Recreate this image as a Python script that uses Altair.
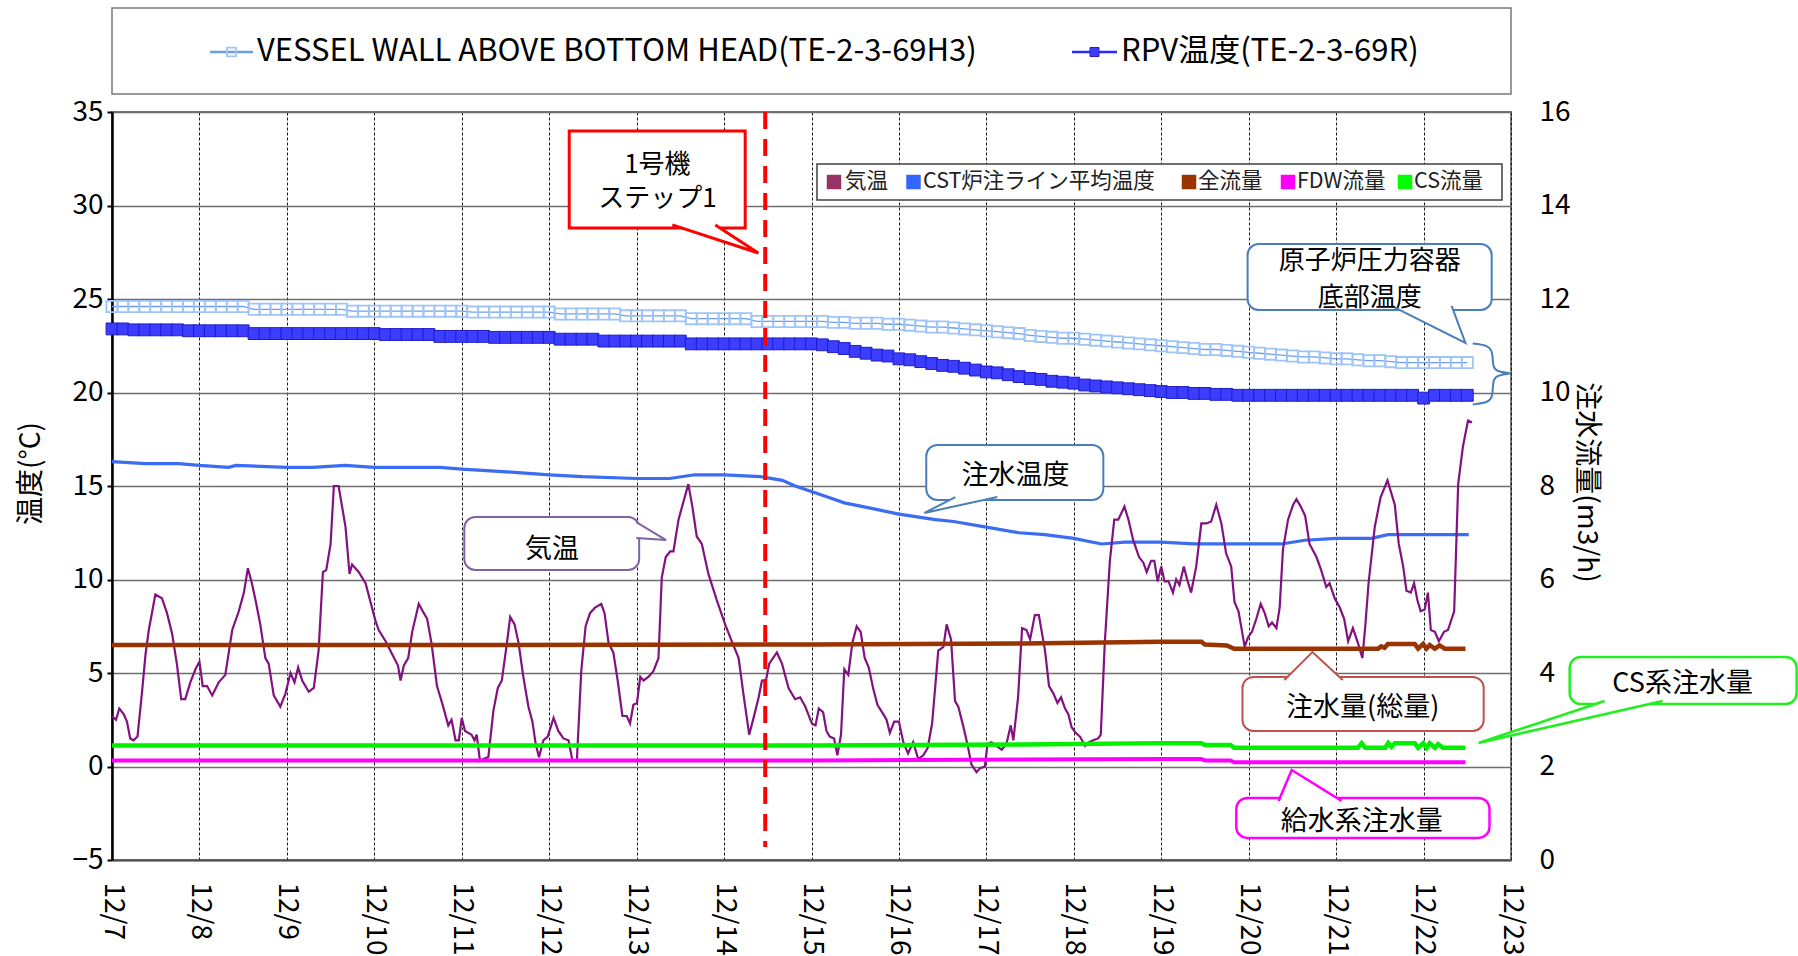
import altair as alt
import pandas as pd

FONT = "Noto Sans CJK JP"
W, H = 1399, 748          # plot area in pixels
X_MAX = 384               # 12/7 00:00 .. 12/23 00:00, in hours

# ---------------------------------------------------------------------------
# Time is given in hours since 12/7 00:00.
# 気温 (outside air temperature, degC)
AIR_HOURS = [
    0.0, 1.1, 2.0, 3.2, 4.1, 5.0, 5.9, 7.0, 8.2, 9.2,
    10.1, 11.9, 13.7, 15.1, 16.5, 17.8, 19.0, 20.1, 21.5, 22.9,
    24.0, 24.9, 26.1, 27.5, 29.3, 31.1, 33.0, 34.8, 36.2, 37.3,
    38.4, 39.5, 40.7, 42.1, 43.0, 44.4, 46.2, 47.6, 49.0, 50.1,
    51.1, 52.2, 54.0, 55.4, 56.7, 57.9, 58.8, 60.0, 60.9, 62.2,
    64.1, 65.2, 65.9, 67.7, 69.6, 72.3, 73.2, 75.1, 76.9, 78.5,
    79.2, 80.1, 81.3, 82.4, 84.2, 85.6, 86.5, 87.7, 89.2, 90.6,
    92.3, 93.2, 94.3, 95.2,
    96.0, 96.9, 97.8, 98.7, 99.5, 100.1, 101.0, 101.9, 103.3, 104.7,
    105.9, 107.0, 108.4, 109.3, 110.5, 111.6, 112.9, 114.3, 115.4, 116.3,
    117.2, 118.4, 119.6, 121.2, 122.5, 123.9, 125.3, 126.4, 127.6, 128.8,
    130.0, 131.2, 132.6, 134.3, 135.2, 136.3, 137.6, 138.8, 140.1, 141.3,
    142.2, 143.1, 144.1, 145.0, 145.9, 147.3, 148.6, 150.0, 150.9, 152.0,
    153.2, 154.1, 155.5, 156.9, 158.2, 159.3, 160.5, 161.9, 163.7, 166.0,
    168.3, 170.1, 172.0, 173.3, 174.9, 176.1, 177.5, 178.4, 179.5, 180.4,
    182.5, 183.9, 185.7, 187.5, 188.9, 190.3,
    192.1, 193.1, 194.0, 195.2, 196.1, 197.0, 198.2, 199.1, 200.1, 201.0,
    202.1, 203.2, 204.4, 205.5, 206.6, 207.7, 208.9, 210.1, 211.7, 212.6,
    213.5, 214.7, 216.0, 217.2, 218.5, 219.9, 221.3, 222.7, 223.9, 225.1,
    226.8, 228.2, 229.1, 230.3, 231.4, 232.3, 233.6, 235.0, 235.9, 237.3,
    238.2, 239.6, 240.3, 241.4, 242.8, 244.2, 245.5, 246.7, 247.4, 248.7,
    249.8, 251.0, 252.0, 253.3, 254.4, 256.1, 257.2, 258.4, 259.5, 260.5,
    261.6, 262.5, 263.4, 264.5, 265.7, 267.1, 268.2, 269.3, 270.7, 271.4,
    272.5, 273.9, 275.1, 276.2, 277.9, 279.0, 280.3, 281.9, 283.1, 284.0,
    285.2, 286.1, 287.0,
    288.0, 288.9, 290.0, 291.2, 292.1, 293.0, 294.2, 295.1, 296.2, 297.6,
    299.0, 300.4, 301.7, 303.1, 304.5, 305.8, 307.2, 308.1, 309.2, 310.2,
    310.9, 311.8, 312.9, 314.1, 315.3, 316.4, 317.5, 318.4, 319.6, 320.5,
    321.4, 322.8, 324.2, 325.1, 326.3, 327.5, 328.7, 330.6, 331.9, 333.3,
    334.2, 335.6, 337.0, 338.2, 339.3, 340.6, 342.0, 343.2, 344.0, 344.9,
    346.6, 348.2, 350.1, 352.1, 353.2, 354.4, 355.3, 356.5, 357.4, 358.3,
    359.2, 360.3, 361.2, 362.0, 363.1, 364.2, 365.6, 366.7, 368.4, 369.5,
    370.8, 372.2, 373.3,
]
AIR_TEMP = [
    2.7, 2.5, 3.1, 2.8, 2.4, 1.5, 1.4, 1.6, 3.9, 6.0,
    7.3, 9.2, 9.0, 8.2, 7.1, 5.5, 3.6, 3.6, 4.5, 5.2,
    5.6, 4.3, 4.3, 3.8, 4.5, 4.9, 7.3, 8.3, 9.3, 10.6,
    9.8, 8.8, 7.6, 5.8, 5.5, 3.8, 3.2, 3.9, 5.0, 4.5,
    5.3, 4.6, 4.0, 4.2, 6.2, 10.4, 10.5, 11.9, 15.0, 15.0,
    12.8, 10.3, 10.8, 10.4, 9.8, 7.8, 7.3, 6.7, 6.0, 5.4,
    4.6, 5.4, 5.8, 7.2, 8.7, 8.2, 7.9, 6.6, 4.3, 3.4,
    2.2, 2.5, 1.4, 1.4,
    2.6, 1.9, 1.8, 1.7, 1.4, 1.7, 0.3, 0.4, 0.5, 3.0,
    4.2, 4.6, 6.6, 8.0, 7.6, 6.6, 4.8, 3.2, 2.4, 1.2,
    0.5, 1.4, 1.6, 2.6, 1.9, 1.5, 1.4, 0.3, 0.3, 5.1,
    7.5, 8.2, 8.5, 8.7, 8.2, 6.6, 6.1, 4.6, 2.7, 2.7,
    2.3, 3.3, 3.4, 4.8, 4.6, 4.8, 5.1, 5.8, 10.1, 11.2,
    11.5, 11.5, 13.2, 14.2, 15.1, 13.9, 12.3, 11.9, 10.3, 8.9,
    7.6, 6.7, 5.8, 3.9, 1.7, 2.6, 3.7, 4.6, 4.6, 5.5,
    6.1, 5.5, 4.2, 3.6, 3.7, 3.2,
    2.3, 2.2, 3.1, 2.9, 1.9, 1.6, 1.5, 0.6, 1.7, 5.2,
    4.9, 6.6, 7.5, 7.2, 5.8, 5.3, 4.2, 3.3, 2.8, 2.5,
    1.8, 2.4, 2.4, 1.3, 0.7, 1.3, 0.4, 0.6, 1.0, 2.3,
    6.2, 6.4, 7.6, 6.8, 3.5, 3.2, 2.2, 1.0, 0.1, -0.3,
    -0.1, 0.0, 1.2, 1.3, 1.1, 0.9, 1.2, 2.2, 1.4, 3.7,
    7.4, 7.3, 6.8, 8.1, 8.1, 6.2, 4.3, 3.9, 3.4, 3.7,
    3.1, 2.8, 2.1, 1.8, 1.6, 1.1, 1.3, 1.4, 1.5, 1.7,
    6.6, 11.0, 13.2, 13.2, 13.9, 13.2, 12.1, 11.2, 10.9, 10.4,
    11.0, 11.0, 9.9,
    10.7, 9.9, 9.9, 9.3, 10.0, 9.7, 10.7, 10.0, 9.3, 10.7,
    13.0, 13.0, 13.1, 14.0, 13.0, 11.4, 10.7, 8.8, 8.3, 7.2,
    6.4, 6.9, 7.2, 7.9, 8.7, 8.2, 7.5, 7.7, 7.4, 8.5,
    11.6, 13.2, 14.0, 14.3, 13.9, 13.4, 11.9, 11.2, 10.5, 9.6,
    9.8, 9.0, 8.5, 7.9, 6.7, 7.4, 6.6, 5.8, 7.5, 9.8,
    12.8, 14.4, 15.3, 14.0, 11.9, 10.7, 9.4, 9.3, 9.8, 8.9,
    8.3, 8.4, 9.3, 7.3, 7.2, 6.7, 7.2, 7.3, 8.3, 15.1,
    17.1, 18.5, 18.4,
]

# CST炉注ライン平均温度 (injection water temperature, degC)
CST_HOURS = [0, 9.2, 18.3, 24, 32, 34, 48, 55, 64, 72,
             80, 90, 96, 105, 120, 129, 144, 153, 160, 168,
             178, 184, 187.5, 192, 196.6, 201, 208.5, 216, 226, 231,
             240, 249, 256, 264, 271.6, 278, 288, 297, 312, 321,
             327.4, 336, 345.7, 350.2, 360, 367.6, 372.4]
CST_TEMP = [16.3, 16.2, 16.2, 16.1, 16.0, 16.1, 16.0, 16.0, 16.1, 16.0,
            16.0, 16.0, 15.9, 15.8, 15.6, 15.5, 15.4, 15.4, 15.6, 15.6,
            15.5, 15.3, 15.0, 14.7, 14.4, 14.1, 13.8, 13.5, 13.2, 13.1,
            12.8, 12.5, 12.4, 12.2, 11.9, 12.0, 12.0, 11.9, 11.9, 11.9,
            12.1, 12.2, 12.2, 12.4, 12.4, 12.4, 12.4]

# RPV bottom temperatures, one reading every 3 hours (one row per day)
SQ_HOURS = list(range(0, 373, 3))
VESSEL_TEMP = [
    24.6, 24.6, 24.6, 24.6, 24.6, 24.6, 24.6, 24.6,
    24.6, 24.6, 24.6, 24.6, 24.6, 24.45, 24.45, 24.45,
    24.45, 24.45, 24.45, 24.45, 24.45, 24.45, 24.35, 24.35,
    24.35, 24.35, 24.35, 24.35, 24.35, 24.35, 24.35, 24.35,
    24.35, 24.3, 24.3, 24.3, 24.3, 24.3, 24.3, 24.3,
    24.3, 24.2, 24.2, 24.2, 24.2, 24.2, 24.2, 24.1,
    24.1, 24.1, 24.1, 24.1, 24.1, 23.95, 23.95, 23.95,
    23.95, 23.95, 23.95, 23.8, 23.8, 23.8, 23.8, 23.8,
    23.8, 23.8, 23.75, 23.75, 23.7, 23.7, 23.7, 23.65,
    23.65, 23.6, 23.55, 23.5, 23.5, 23.45, 23.4, 23.35,
    23.3, 23.25, 23.2, 23.15, 23.05, 23.0, 22.95, 22.9,
    22.9, 22.85, 22.8, 22.75, 22.7, 22.65, 22.6, 22.55,
    22.5, 22.45, 22.4, 22.35, 22.3, 22.3, 22.25, 22.2,
    22.15, 22.1, 22.05, 22.0, 21.95, 21.9, 21.9, 21.85,
    21.8, 21.8, 21.75, 21.7, 21.7, 21.65, 21.6, 21.6,
    21.6, 21.6, 21.6, 21.6, 21.6,
]
RPV_TEMP = [
    23.4, 23.4, 23.35, 23.35, 23.35, 23.35, 23.35, 23.3,
    23.3, 23.3, 23.3, 23.3, 23.3, 23.15, 23.15, 23.15,
    23.15, 23.15, 23.15, 23.15, 23.15, 23.15, 23.15, 23.15,
    23.15, 23.1, 23.1, 23.1, 23.1, 23.1, 23.0, 23.0,
    23.0, 23.0, 23.0, 22.95, 22.95, 22.95, 22.95, 22.95,
    22.95, 22.85, 22.85, 22.85, 22.85, 22.75, 22.75, 22.75,
    22.75, 22.75, 22.75, 22.75, 22.75, 22.6, 22.6, 22.6,
    22.6, 22.6, 22.6, 22.6, 22.6, 22.6, 22.6, 22.6,
    22.6, 22.55, 22.45, 22.35, 22.2, 22.1, 22.0, 21.95,
    21.8, 21.75, 21.65, 21.55, 21.45, 21.4, 21.3, 21.2,
    21.1, 21.05, 20.95, 20.85, 20.75, 20.7, 20.6, 20.55,
    20.5, 20.4, 20.35, 20.3, 20.25, 20.2, 20.15, 20.1,
    20.05, 20.0, 20.0, 19.95, 19.95, 19.9, 19.9, 19.85,
    19.85, 19.85, 19.85, 19.85, 19.85, 19.85, 19.85, 19.85,
    19.85, 19.85, 19.85, 19.85, 19.85, 19.85, 19.85, 19.85,
    19.7, 19.85, 19.85, 19.85, 19.85,
]

# Injection flow rates (m3/h, right axis)
TOTAL_HOURS = [0, 96, 192, 250, 288, 299, 300, 306, 308, 347.5,
               348.4, 349.3, 350.2, 357.6, 358.5, 359.9, 360.8, 361.7, 363.1, 364.4,
               365.8, 371.5]
TOTAL_FLOW = [4.60, 4.60, 4.61, 4.63, 4.67, 4.67, 4.61, 4.59, 4.52, 4.52,
              4.57, 4.54, 4.62, 4.62, 4.52, 4.62, 4.52, 4.60, 4.52, 4.59,
              4.52, 4.52]
CS_HOURS = [0, 192, 250, 288, 299, 300, 307, 308, 342, 343,
            344, 349.5, 350.3, 351.2, 352.1, 357.6, 358.5, 359.9, 360.8, 361.7,
            363.1, 364.0, 365.3, 371.5]
CS_FLOW = [2.45, 2.45, 2.47, 2.50, 2.50, 2.46, 2.46, 2.40, 2.40, 2.50,
           2.40, 2.40, 2.50, 2.42, 2.50, 2.50, 2.40, 2.50, 2.40, 2.50,
           2.40, 2.48, 2.40, 2.40]
FDW_HOURS = [0, 192, 250, 288, 299, 300, 307, 308, 371.5]
FDW_FLOW = [2.13, 2.13, 2.15, 2.16, 2.16, 2.13, 2.13, 2.09, 2.09]

# Unit 1 "step 1" marker
STEP1_HOUR = 179.3
STEP1_RANGE = (35, -4.3)

# ---------------------------------------------------------------------------
# Callout boxes (hour range, degC range), text lines and pointer triangles
CALLOUT_COLOR = ["#ff0000", "#4a7ebb", "#4a7ebb", "#8064a2", "#c0504d", "#22ee22", "#ff00ff"]
CALLOUT_WIDTH = [3, 2, 2, 2, 2, 2.5, 2.5]
CALLOUT_BOX = [(125.5, 173.8, 33.98, 28.80), (311.7, 378.7, 27.94, 24.41),
               (223.5, 272.1, 17.19, 14.25), (96.7, 144.7, 13.34, 10.51),
               (310.3, 376.5, 4.79, 1.90), (400.1, 462.4, 5.86, 3.34),
               (308.6, 378.1, -1.68, -3.82)]
# text, hour, degC, font size
CALLOUT_LINES = [
    ("1号機", 149.7, 32.14, 26), ("ステップ1", 149.7, 30.36, 26),
    ("原子炉圧力容器", 345.2, 27.02, 26), ("底部温度", 345.2, 25.08, 26),
    ("注水温度", 248.0, 15.55, 27), ("気温", 120.8, 11.60, 27),
    ("注水量(総量)", 343.3, 3.14, 27), ("CS系注水量", 431.1, 4.40, 27),
    ("給水系注水量", 343.0, -2.98, 27),
]
CALLOUT_POINTER = [
    [(153.8, 28.96), (177.4, 27.46), (165.6, 28.96)],
    [(351.2, 24.63), (371.5, 22.65), (367.7, 24.63)],
    [(231.5, 14.41), (223.0, 13.56), (243.0, 14.41)],
    [(143.9, 13.07), (152.1, 12.11), (143.9, 12.22)],
    [(321.8, 4.63), (329.5, 6.12), (337.8, 4.63)],
    [(409.7, 3.50), (375.1, 1.26), (425.6, 3.50)],
    [(320.2, -1.84), (323.8, -0.19), (337.5, -1.84)],
]
# Curly brace grouping the two RPV bottom curves
BRACE = [(373.5, 22.62), (377.9, 22.51), (379.0, 22.14), (379.0, 21.39), (380.0, 21.12),
         (383.9, 21.02), (383.9, 21.02), (380.0, 20.91), (379.0, 20.64), (379.0, 19.79),
         (377.9, 19.47), (373.5, 19.36)]

# Legend entries
TOP_LEGEND = ["VESSEL WALL ABOVE BOTTOM HEAD(TE-2-3-69H3)", "RPV温度(TE-2-3-69R)"]
SWATCH_LABELS = ["気温", "CST炉注ライン平均温度", "全流量", "FDW流量", "CS流量"]
SWATCH_COLORS = ["#993366", "#3366ff", "#993300", "#ff00ff", "#00ff00"]

# ---------------------------------------------------------------------------
air_df = pd.DataFrame({"hour": AIR_HOURS, "temp": AIR_TEMP})
cst_df = pd.DataFrame({"hour": CST_HOURS, "temp": CST_TEMP})
sq_df = pd.DataFrame({"hour": SQ_HOURS, "vessel": VESSEL_TEMP, "rpv": RPV_TEMP})
total_df = pd.DataFrame({"hour": TOTAL_HOURS, "flow": TOTAL_FLOW})
cs_df = pd.DataFrame({"hour": CS_HOURS, "flow": CS_FLOW})
fdw_df = pd.DataFrame({"hour": FDW_HOURS, "flow": FDW_FLOW})
step_df = pd.DataFrame({"hour": [STEP1_HOUR], "top": [STEP1_RANGE[0]], "bottom": [STEP1_RANGE[1]]})

box_df = pd.DataFrame([
    {"id": i, "h1": b[0], "h2": b[1], "t1": b[2], "t2": b[3],
     "color": CALLOUT_COLOR[i], "sw": CALLOUT_WIDTH[i]}
    for i, b in enumerate(CALLOUT_BOX)
])
label_df = pd.DataFrame(CALLOUT_LINES, columns=["text", "hour", "temp", "size"])
pointer_df = pd.DataFrame([
    {"id": i, "ord": k, "hour": p[0], "temp": p[1], "color": CALLOUT_COLOR[i], "sw": CALLOUT_WIDTH[i]}
    for i, pts in enumerate(CALLOUT_POINTER) for k, p in enumerate(pts)
])
brace_df = pd.DataFrame([{"ord": k, "hour": p[0], "temp": p[1]} for k, p in enumerate(BRACE)])
one = pd.DataFrame({"k": [0]})

# ---------------------------------------------------------------------------
x_scale = alt.Scale(domain=[0, X_MAX], nice=False, zero=False)
t_scale = alt.Scale(domain=[-5, 35], nice=False, zero=False)
f_scale = alt.Scale(domain=[0, 16], nice=False, zero=False)

x_axis = alt.Axis(
    values=list(range(0, X_MAX + 1, 24)),
    labelExpr="'12/' + (7 + datum.value / 24)",
    labelAngle=90, labelAlign="left", labelBaseline="middle",
    labelFontSize=28, labelPadding=22, labelFlush=False, labelOverlap=False,
    ticks=False, grid=True, gridColor="#1a1a1a", gridDash=[3, 2], gridWidth=1,
    domainColor="#505050", domainWidth=2, title=None,
)
t_axis = alt.Axis(
    orient="left", values=list(range(-5, 36, 5)),
    labelFontSize=28, labelPadding=4, labelFlush=False,
    tickSize=5, tickColor="black", tickWidth=2,
    domainColor="black", domainWidth=2.5,
    grid=True, gridColor="#6e6e6e", gridWidth=1.6,
    title="温度(°C)", titleFontSize=28, titleFontWeight="normal",
    titleAngle=-90, titleX=-81, titleY=361, titleAlign="center", titleBaseline="middle",
)
f_axis = alt.Axis(
    orient="right", values=list(range(0, 17, 2)),
    labelFontSize=28, labelPadding=28, labelFlush=False,
    ticks=False, domain=False, grid=False,
    title="注水流量(m3/h)", titleFontSize=28, titleFontWeight="normal",
    titleAngle=90, titleX=74, titleY=370, titleAlign="center", titleBaseline="middle",
)


def xq(field="hour"):
    return alt.X(f"{field}:Q", scale=x_scale, axis=x_axis)


def tq(field="temp", axis=t_axis):
    return alt.Y(f"{field}:Q", scale=t_scale, axis=axis)


# --- temperature series (left axis) ---
vessel_line = alt.Chart(sq_df).mark_line(color="#6d9eeb", strokeWidth=1.3).encode(x=xq(), y=tq("vessel"))
vessel_pts = alt.Chart(sq_df).mark_point(
    shape="square", filled=False, color="#9fc5f8", size=125, strokeWidth=1.8, opacity=1
).encode(x=xq(), y=tq("vessel"))
rpv_line = alt.Chart(sq_df).mark_line(color="#2a2aff", strokeWidth=2).encode(x=xq(), y=tq("rpv"))
rpv_pts = alt.Chart(sq_df).mark_point(
    shape="square", filled=True, fill="#3d3dff", stroke="#1d1dc8", strokeWidth=1, size=140, opacity=1
).encode(x=xq(), y=tq("rpv"))
cst_line = alt.Chart(cst_df).mark_line(color="#3a6cf4", strokeWidth=3.2).encode(x=xq(), y=tq())
air_line = alt.Chart(air_df).mark_line(color="#82127f", strokeWidth=2.2).encode(x=xq(), y=tq())

temps = alt.layer(vessel_line, vessel_pts, rpv_line, rpv_pts, cst_line, air_line)

# --- flow series (right axis) ---
def flow_line(df, color, width):
    return alt.Chart(df).mark_line(color=color, strokeWidth=width).encode(
        x=xq(), y=alt.Y("flow:Q", scale=f_scale, axis=f_axis)
    )

flows = alt.layer(
    flow_line(total_df, "#993300", 4.5),
    flow_line(cs_df, "#00f000", 4.5),
    flow_line(fdw_df, "#ff00ff", 4),
)

# --- annotations (degC coordinates, no axis of their own) ---
step_rule = alt.Chart(step_df).mark_rule(color="#ff0000", strokeWidth=4, strokeDash=[17, 10]).encode(
    x=xq(), y=tq("top", None), y2="bottom:Q"
)
brace = alt.Chart(brace_df).mark_line(interpolate="basis", color="#4a7ebb", strokeWidth=2).encode(
    x=xq(), y=tq("temp", None), order="ord:O"
)
box_enc = dict(
    x=xq("h1"), x2="h2:Q", y=tq("t1", None), y2="t2:Q",
    stroke=alt.Stroke("color:N", scale=None), strokeWidth=alt.StrokeWidth("sw:Q", scale=None),
)
boxes_square = alt.Chart(box_df).transform_filter("datum.id == 0").mark_rect(fill="white").encode(**box_enc)
boxes_round = alt.Chart(box_df).transform_filter("datum.id > 0").mark_rect(
    fill="white", cornerRadius=11
).encode(**box_enc)
pointers = alt.Chart(pointer_df).mark_line(fill="white", strokeJoin="miter").encode(
    x=xq(), y=tq("temp", None), order="ord:O", detail="id:N",
    stroke=alt.Stroke("color:N", scale=None), strokeWidth=alt.StrokeWidth("sw:Q", scale=None),
)
labels = alt.Chart(label_df).mark_text(
    font=FONT, color="black", align="center", baseline="middle",
).encode(x=xq(), y=tq("temp", None), text="text:N", size=alt.Size("size:Q", scale=None))

# top legend (above the plot)
top_box = alt.Chart(one).mark_rect(fill="white", stroke="#7a7a7a", strokeWidth=1.5).encode(
    x=alt.value(0), x2=alt.value(W), y=alt.value(-104), y2=alt.value(-18)
)
top_items = []
for label, (lx1, lx2, tx), line_c, pt in [
    (TOP_LEGEND[0], (98, 141, 145), "#6d9eeb", dict(filled=False, color="#9fc5f8", strokeWidth=1.8)),
    (TOP_LEGEND[1], (960, 1005, 1009), "#2a2aff", dict(filled=True, fill="#3d3dff", stroke="#1d1dc8", strokeWidth=1)),
]:
    top_items.append(alt.Chart(one).mark_rule(color=line_c, strokeWidth=2.5).encode(
        x=alt.value(lx1), x2=alt.value(lx2), y=alt.value(-60)))
    top_items.append(alt.Chart(one).mark_point(shape="square", size=80, opacity=1, **pt).encode(
        x=alt.value((lx1 + lx2) / 2), y=alt.value(-60)))
    top_items.append(alt.Chart(one).mark_text(
        text=label, font=FONT, fontSize=31, align="left", baseline="middle", color="black"
    ).encode(x=alt.value(tx), y=alt.value(-60)))

# inner legend (inside the plot, upper right)
inner_box = alt.Chart(one).mark_rect(fill="white", stroke="#404040", strokeWidth=1.5).encode(
    x=alt.value(705), x2=alt.value(1390), y=alt.value(52), y2=alt.value(88)
)
inner_items = []
for label, color, sx, tx in zip(SWATCH_LABELS, SWATCH_COLORS,
                                [722, 801.5, 1077, 1176, 1293], [733, 811, 1086, 1185, 1302]):
    inner_items.append(alt.Chart(one).mark_square(size=210, color=color, opacity=1).encode(
        x=alt.value(sx), y=alt.value(70)))
    inner_items.append(alt.Chart(one).mark_text(
        text=label, font=FONT, fontSize=21.5, align="left", baseline="middle", color="#222222"
    ).encode(x=alt.value(tx), y=alt.value(70)))

notes = alt.layer(
    step_rule, brace, boxes_square, boxes_round, pointers, labels,
    top_box, *top_items, inner_box, *inner_items,
)

chart = (
    alt.layer(temps, flows, notes)
    .resolve_scale(y="independent")
    .properties(
        width=W, height=H,
        autosize=alt.AutoSizeParams(type="none"),
        padding={"left": 112, "top": 112, "right": 287, "bottom": 96},
        background="white",
    )
    .configure_view(stroke="#7a7a7a", strokeWidth=2)
    .configure_axis(labelFont=FONT, titleFont=FONT, labelColor="black", titleColor="black")
)

chart.save("out.html", embed_options={"renderer": "svg", "actions": False})
